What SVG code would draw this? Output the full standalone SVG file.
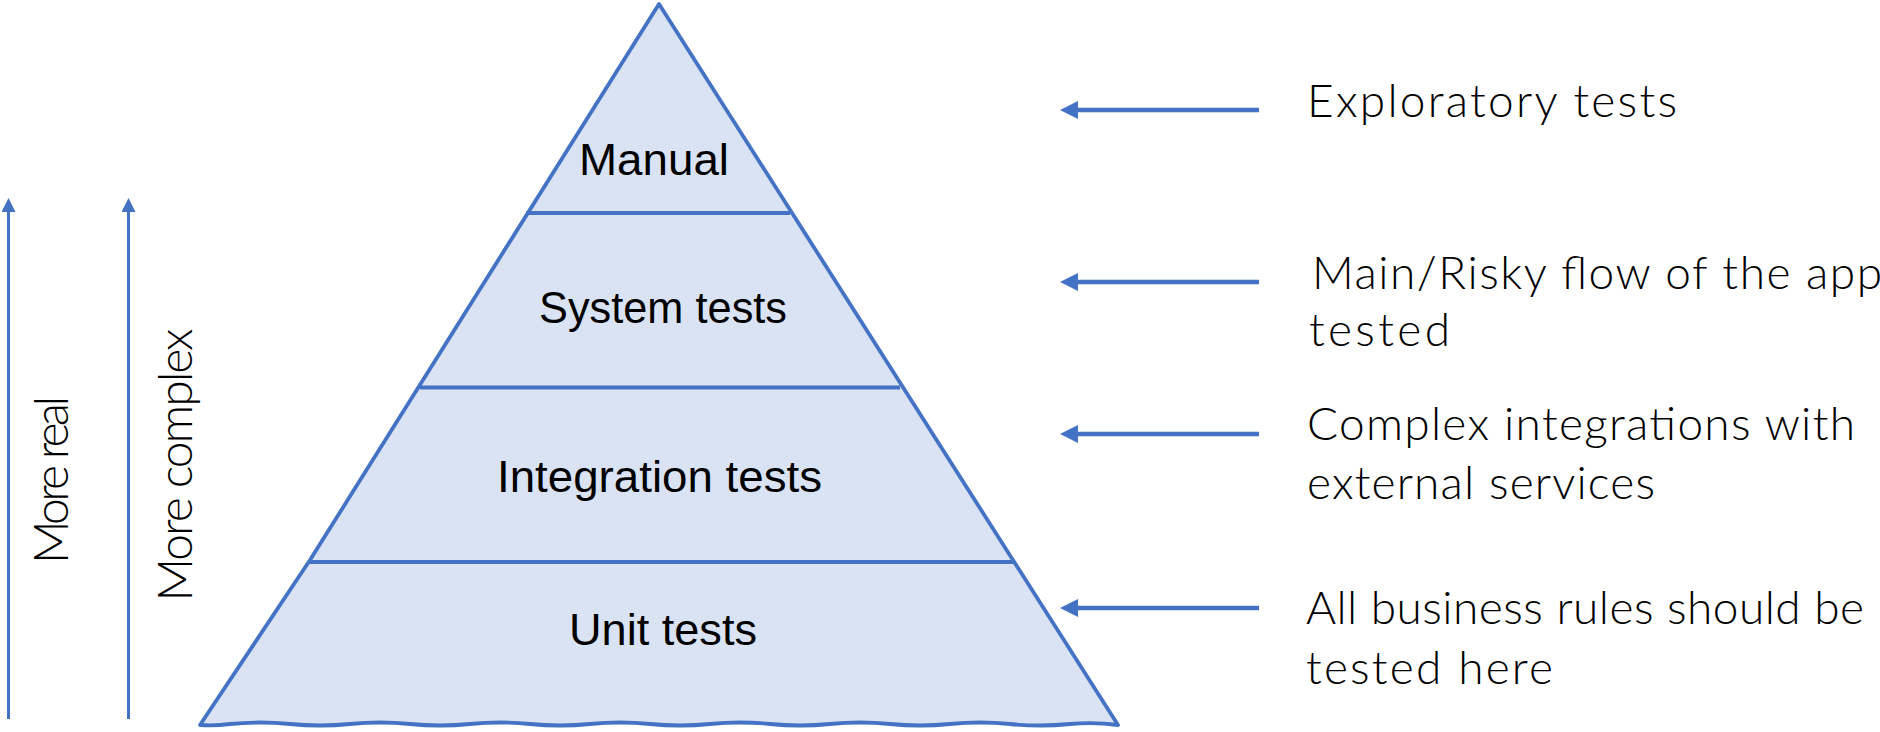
<svg xmlns="http://www.w3.org/2000/svg" width="1880" height="732" viewBox="0 0 1880 732">
<defs>
<style>
.edge{fill:#DAE3F3;stroke:#4472C4;stroke-width:3.8;stroke-linejoin:round}
.div{stroke:#4472C4;stroke-width:4.2;fill:none}
.lbl{font-family:"Liberation Sans",Arial,sans-serif;font-size:44px;fill:#000;text-anchor:middle}
.hand{font-family:Lato,"Liberation Sans",sans-serif;font-weight:300;font-size:46px;fill:#000}
.vert{font-family:Lato,"Liberation Sans",sans-serif;font-weight:300;font-size:48px;fill:#000;text-anchor:middle}
.arrR{stroke:#4472C4;stroke-width:4.7;fill:none;marker-end:url(#headR)}
.arrV{stroke:#4472C4;stroke-width:3;fill:none;marker-end:url(#headV)}
</style>
<marker id="headR" markerUnits="userSpaceOnUse" viewBox="0 0 18 18" markerWidth="18" markerHeight="18" refX="2" refY="9" orient="auto">
<path d="M0,0 L18,9 L0,18 Z" fill="#4472C4"/>
</marker>
<marker id="headV" markerUnits="userSpaceOnUse" viewBox="0 0 14 14" markerWidth="14" markerHeight="14" refX="2" refY="7" orient="auto">
<path d="M0,0 L14,7 L0,14 Z" fill="#4472C4"/>
</marker>
</defs>
<rect width="1880" height="732" fill="#FFFFFF"/>

<g id="pyramid">
<path class="edge" d="M659,4 L1118,725 Q1095,722 1070,724 Q1040,727 1010,724 Q980,721 950,724 Q920,727 890,724 Q860,721 830,724 Q800,727 770,724 Q740,721 710,724 Q680,727 650,724 Q620,721 590,724 Q560,727 530,724 Q500,721 470,724 Q440,727 410,724 Q380,721 350,724 Q320,727 290,724 Q260,721 230,724 Q215,726 200,725 L310,560 Z"/>
</g>

<g id="layer-manual">
<line class="div" x1="526" y1="213" x2="790" y2="213"/>
<text class="lbl" x="654" y="175" textLength="150" lengthAdjust="spacingAndGlyphs">Manual</text>
</g>
<g id="layer-system">
<line class="div" x1="420" y1="387.5" x2="900" y2="387.5"/>
<text class="lbl" x="663" y="323" textLength="248" lengthAdjust="spacingAndGlyphs">System tests</text>
</g>
<g id="layer-integration">
<line class="div" x1="310" y1="562" x2="1014" y2="562"/>
<text class="lbl" x="659.5" y="492" textLength="325" lengthAdjust="spacingAndGlyphs">Integration tests</text>
</g>
<g id="layer-unit">
<text class="lbl" x="663" y="645" textLength="188" lengthAdjust="spacingAndGlyphs">Unit tests</text>
</g>

<g id="connectors">
<line class="arrR" x1="1259" y1="110" x2="1076" y2="110"/>
<line class="arrR" x1="1259" y1="282" x2="1076" y2="282"/>
<line class="arrR" x1="1259" y1="434" x2="1076" y2="434"/>
<line class="arrR" x1="1259" y1="608" x2="1076" y2="608"/>
<line class="arrV" x1="8.5" y1="719" x2="8.5" y2="210"/>
<line class="arrV" x1="128.5" y1="719" x2="128.5" y2="210"/>
</g>

<g id="note-exploratory">
<text class="hand" x="1307" y="117" textLength="370" lengthAdjust="spacing">Exploratory tests</text>
</g>
<g id="note-main">
<text class="hand" x="1312" y="289" textLength="570" lengthAdjust="spacing">Main/Risky flow of the app</text>
<text class="hand" x="1309" y="346" textLength="141" lengthAdjust="spacing">tested</text>
</g>
<g id="note-complex">
<text class="hand" x="1307" y="440" textLength="548" lengthAdjust="spacing">Complex integrations with</text>
<text class="hand" x="1307" y="499" textLength="348" lengthAdjust="spacing">external services</text>
</g>
<g id="note-business">
<text class="hand" x="1306" y="624" textLength="558" lengthAdjust="spacing">All business rules should be</text>
<text class="hand" x="1306" y="684" textLength="247" lengthAdjust="spacing">tested here</text>
</g>

<g id="axis-real">
<text class="vert" transform="translate(68,480) rotate(-90)" textLength="168" lengthAdjust="spacing">More real</text>
</g>
<g id="axis-complex">
<text class="vert" transform="translate(192,465) rotate(-90)" textLength="273" lengthAdjust="spacing">More complex</text>
</g>
</svg>
